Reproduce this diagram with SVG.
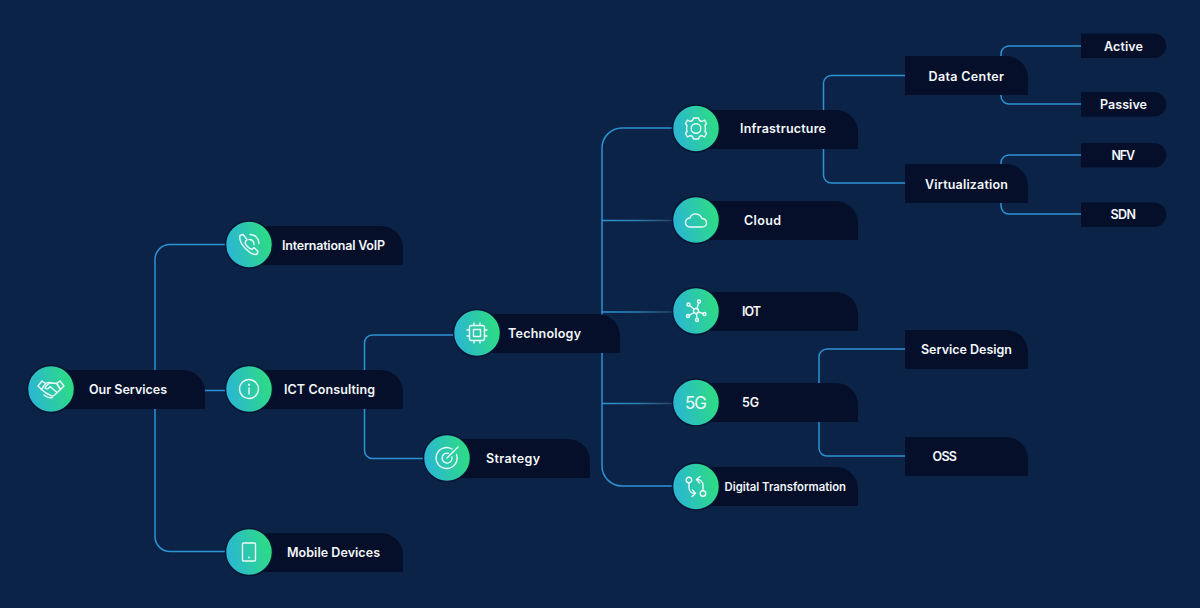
<svg xmlns="http://www.w3.org/2000/svg" width="1200" height="608" viewBox="0 0 1200 608">
<style>
.bar{fill:#050f2a}
.c{fill:url(#g);stroke:#071634;stroke-width:1.5}
.l{fill:#f4f7fa;font-family:"Inter","Liberation Sans",sans-serif;font-weight:600;font-size:12.5px}
.i{fill:none;stroke:#eefaf8;stroke-width:1.4;stroke-linecap:round;stroke-linejoin:round}
.w{fill:none;stroke:#2c93d2;stroke-width:1.5}
</style>
<defs>
<linearGradient id="g" x1="0" y1="0.6" x2="1" y2="0.4"><stop offset="0" stop-color="#2ab5d6"/><stop offset="1" stop-color="#2edd80"/></linearGradient>
<linearGradient id="f" gradientUnits="userSpaceOnUse" x1="602" y1="0" x2="673" y2="0"><stop offset="0" stop-color="#2c93d2"/><stop offset="0.5" stop-color="#2b7fb5"/><stop offset="1" stop-color="#25435f"/></linearGradient>
</defs>
<rect width="1200" height="608" fill="#0b2347"/>
<g id="connectors">
<path class="w" d="M155 372V259.500a15 15 0 0 1 15-15H228"/>
<path class="w" d="M155 407V536.500a15 15 0 0 0 15 15H228"/>
<path class="w" d="M203 390.500H228"/>
<path class="w" d="M364.500 372V343a8 8 0 0 1 8-8H456"/>
<path class="w" d="M364.500 407V450a8 8 0 0 0 8 8.500H426"/>
<path class="w" d="M602 316V148a20 20 0 0 1 20-20H675"/>
<path class="w" d="M602 351V466a20 20 0 0 0 20 20H675"/>
<path fill="none" stroke="url(#f)" stroke-width="1.500" d="M602 220.500H675M602 312H675M602 403.500H675"/>
<path class="w" d="M823.500 112V83.500a8 8 0 0 1 8-8H907"/>
<path class="w" d="M823.500 147V175a8 8 0 0 0 8 8H907"/>
<path class="w" d="M1001 58V54a8 8 0 0 1 8-8H1083"/>
<path class="w" d="M1001 93V96a8 8 0 0 0 8 8H1083"/>
<path class="w" d="M1001 166V163a8 8 0 0 1 8-8H1083"/>
<path class="w" d="M1001 201V206a8 8 0 0 0 8 8H1083"/>
<path class="w" d="M819 385V357a8 8 0 0 1 8-8H907"/>
<path class="w" d="M819 420V448a8 8 0 0 0 8 8H907"/>
</g>
<g id="n-our-services">
<path class="bar" d="M51 370H183a22 22 0 0 1 22 22V409H51Z"/><circle class="c" cx="51" cy="389" r="23.500"/>
<g class="i" transform="translate(51 389)"><path d="M-13-3-9-8-5.500-5.500-9.500 0.500Z"/><path d="M13-3 9-8 5.500-5.500 9.500 0.500Z"/><path d="M-5.500-5.500C-3-7-1-7 1-6L6-5.500 9.500 0.500 3 6.500C1.500 7.500 0 7-1 6L-5 4-9.500 0.500"/><path d="M1-6C-2-7-5-3-6-1-4 1-2-1-1-2.500L6 3.500"/><path d="M-7 6C-4 8.500-1 9 1.500 8.500"/></g>
<text class="l" x="89" y="393.500" textLength="78">Our Services</text></g>
<g id="n-international-voip">
<path class="bar" d="M249 226H381a22 22 0 0 1 22 22V265H249Z"/><circle class="c" cx="249" cy="244.500" r="23.500"/>
<g class="i" transform="translate(249 244.500)"><path d="M-9-9-6-10-2-5-4-2C-3 1 0 4 3 5L5 3 9 7 8 9.500C3 12-11 0-9-9Z"/><path d="M0-5C3-5 5-3 5 0M1-10C6-10 10-6 10-1"/></g>
<text class="l" x="282" y="249.500" textLength="103">International VoIP</text></g>
<g id="n-ict-consulting">
<path class="bar" d="M249 370H381a22 22 0 0 1 22 22V409H249Z"/><circle class="c" cx="249" cy="389" r="23.500"/>
<g class="i" transform="translate(249 389)"><circle r="9.500"/><path d="M0-1V5"/><path d="M0-4.500V-4" stroke-width="2"/></g>
<text class="l" x="284" y="393.500" textLength="91">ICT Consulting</text></g>
<g id="n-mobile-devices">
<path class="bar" d="M249 533H381a22 22 0 0 1 22 22V572H249Z"/><circle class="c" cx="249" cy="552" r="23.500"/>
<g class="i" transform="translate(249 552)"><rect x="-6.500" y="-9" width="13" height="18" rx="1"/><path d="M0 5.500V5.600" stroke-width="1.800"/></g>
<text class="l" x="287" y="556.500" textLength="93">Mobile Devices</text></g>
<g id="n-technology">
<path class="bar" d="M477 314H598a22 22 0 0 1 22 22V353H477Z"/><circle class="c" cx="477" cy="333" r="23.500"/>
<g class="i" transform="translate(477 333)"><rect x="-7.500" y="-7.500" width="15" height="15" rx="2"/><rect x="-3.500" y="-3.500" width="7" height="7"/><path d="M-3-10V-7.500M3-10V-7.500M-3 7.500V10M3 7.500V10M-10-3H-7.500M-10 3H-7.500M7.500-3H10M7.500 3H10"/></g>
<text class="l" x="508" y="337.500" textLength="73">Technology</text></g>
<g id="n-strategy">
<path class="bar" d="M447 439H568a22 22 0 0 1 22 22V478H447Z"/><circle class="c" cx="447" cy="458" r="23.500"/>
<g class="i" transform="translate(447 458)"><path d="M5-9A10.500 10.500 0 1 0 9.500-3.500"/><path d="M1.500-4.700A5 5 0 1 0 5-1"/><path d="M0 0 11-11"/></g>
<text class="l" x="486" y="462.500" textLength="54">Strategy</text></g>
<g id="n-infrastructure">
<path class="bar" d="M696 110H836a22 22 0 0 1 22 22V149H696Z"/><circle class="c" cx="696" cy="128.500" r="23.500"/>
<g class="i" transform="translate(696 128.500)"><circle r="4.800"/><path d="M-2.500-10.500H2.500L3.500-8 6-7 8.500-8.500 10.500-5 9-3 9.500 0 9 3 10.500 5 8.500 8.500 6 7 3.500 8 2.500 10.500H-2.500L-3.500 8-6 7-8.500 8.500-10.500 5-9 3-9.500 0-9-3-10.500-5-8.500-8.500-6-7-3.500-8Z"/></g>
<text class="l" x="740" y="133" textLength="86">Infrastructure</text></g>
<g id="n-cloud">
<path class="bar" d="M696 201H836a22 22 0 0 1 22 22V240H696Z"/><circle class="c" cx="696" cy="220" r="23.500"/>
<g class="i" transform="translate(696 220)"><path d="M-6 7H6C12 7 12-1 6-1.500 4-7-4-8-6-2-12-2-12 7-6 7Z"/></g>
<text class="l" x="744" y="224.500" textLength="37">Cloud</text></g>
<g id="n-iot">
<path class="bar" d="M696 292H836a22 22 0 0 1 22 22V331H696Z"/><circle class="c" cx="696" cy="311" r="23.500"/>
<g class="i" transform="translate(696 311)"><circle r="2.500"/><circle cx="3" cy="-9.500" r="1.500"/><circle cx="-7.500" cy="-6.500" r="1.500"/><circle cx="8.500" cy="3" r="1.500"/><circle cx="-8" cy="5" r="1.500"/><circle cx="1" cy="9" r="1.500"/><path d="M1-2.500 2.500-8M-2-2-6.500-5.500M2.500 1 7 2.500M-2 1.500-7 4.500M.5 2.500 1 7.500"/></g>
<text class="l" x="742" y="315.500" textLength="19">IOT</text></g>
<g id="n-5g">
<path class="bar" d="M696 383H836a22 22 0 0 1 22 22V422H696Z"/><circle class="c" cx="696" cy="402.500" r="23.500"/>
<text x="696" y="408.500" text-anchor="middle" fill="#eefaf8" font-family="Inter,'Liberation Sans',sans-serif" font-size="17" textLength="22">5G</text>
<text class="l" x="742" y="406.500" textLength="17">5G</text></g>
<g id="n-digital-transformation">
<path class="bar" d="M696 467H836a22 22 0 0 1 22 22V506H696Z"/><circle class="c" cx="696" cy="486.500" r="23.500"/>
<g class="i" transform="translate(696 486.500)"><circle cx="-7" cy="-6.500" r="2.800"/><circle cx="7" cy="7" r="2.800"/><path d="M-7-3.500V1C-7 5-4 7-1 7M-3.500 3.500-.5 7-4 10M7 4V-1C7-5 4-7 1-7M3.500-3.500.5-7 4-10"/></g>
<text class="l" x="724.500" y="491" textLength="121.500" style="font-size:11.300px">Digital Transformation</text></g>
<g id="n-data-center"><path class="bar" d="M905 56H1006a22 22 0 0 1 22 22V95H905Z"/><text class="l" x="928.500" y="80.500" textLength="75.500">Data Center</text></g>
<g id="n-virtualization"><path class="bar" d="M905 164H1006a22 22 0 0 1 22 22V203H905Z"/><text class="l" x="925" y="188.500" textLength="83">Virtualization</text></g>
<g id="n-service-design"><path class="bar" d="M905 330H1006a22 22 0 0 1 22 22V369H905Z"/><text class="l" x="921" y="354" textLength="91">Service Design</text></g>
<g id="n-oss"><path class="bar" d="M905 437H1006a22 22 0 0 1 22 22V476H905Z"/><text class="l" x="932.500" y="461" textLength="24.500">OSS</text></g>
<g id="n-active"><path class="bar" d="M1081 33.500H1154a12.250 12.250 0 0 1 0 24.500H1081Z"/><text class="l" x="1104" y="50.500" textLength="39">Active</text></g>
<g id="n-passive"><path class="bar" d="M1081 92H1154a12.250 12.250 0 0 1 0 24.500H1081Z"/><text class="l" x="1100" y="109" textLength="47">Passive</text></g>
<g id="n-nfv"><path class="bar" d="M1081 143H1154a12.250 12.250 0 0 1 0 24.500H1081Z"/><text class="l" x="1111.500" y="160" textLength="23.500">NFV</text></g>
<g id="n-sdn"><path class="bar" d="M1081 202.500H1154a12.250 12.250 0 0 1 0 24.500H1081Z"/><text class="l" x="1110.500" y="219" textLength="25.500">SDN</text></g>
</svg>
